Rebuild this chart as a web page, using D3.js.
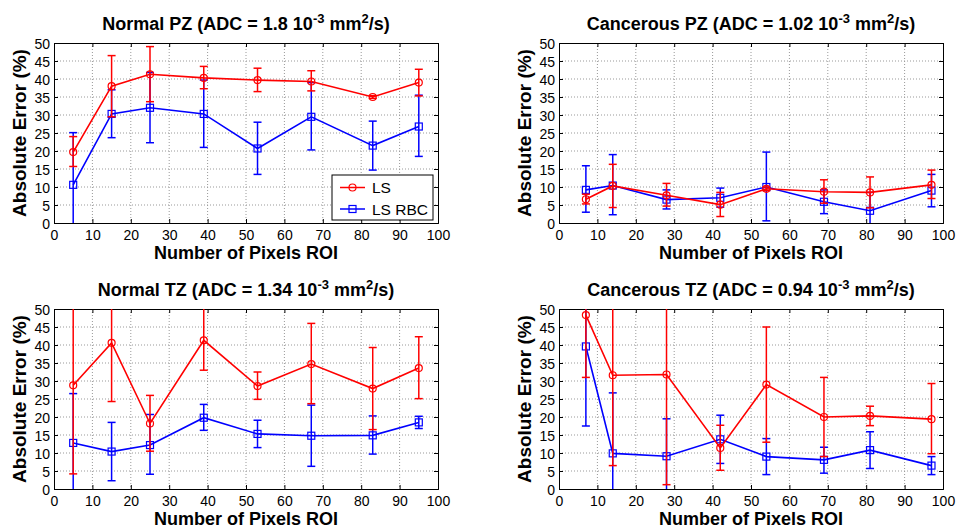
<!DOCTYPE html>
<html>
<head>
<meta charset="utf-8">
<script src="https://cdn.jsdelivr.net/npm/d3@7"></script>
<style>
  body { margin: 0; background: #fff; }
  svg { display: block; font-family: "Liberation Sans", Arial, sans-serif; }
</style>
</head>
<body>
<svg id="chart" width="959" height="531"></svg>
<script>
// x positions (number of pixels in ROI)
const xNormal = [5, 15, 25, 39, 53, 67, 83, 95];
const xCancer = [7, 14, 28, 42, 54, 69, 81, 97];

// Normal PZ
const npzLS     = [19.7, 38.0, 41.3, 40.3, 39.7, 39.3, 35.0, 39.0];
const npzLSLo   = [15.7, 29.5, 33.7, 37.3, 36.5, 36.7, 34.6, 35.3];
const npzLSHi   = [24.0, 46.5, 49.0, 43.5, 43.0, 42.3, 35.4, 42.7];
const npzRBC    = [10.6, 30.3, 32.0, 30.3, 20.7, 29.5, 21.5, 26.8];
const npzRBCLo  = [-4.0, 23.7, 22.3, 21.0, 13.5, 20.3, 14.7, 18.5];
const npzRBCHi  = [25.1, 37.0, 41.8, 39.7, 28.0, 39.0, 28.3, 35.5];

// Cancerous PZ
const cpzLS     = [6.6, 10.3, 7.7, 5.1, 9.5, 8.7, 8.5, 10.6];
const cpzLSLo   = [5.3, 4.3, 4.7, 1.8, 9.0, 5.5, 4.2, 6.8];
const cpzLSHi   = [8.0, 16.3, 11.0, 8.5, 10.0, 12.0, 12.8, 14.7];
const cpzRBC    = [9.2, 10.4, 6.5, 7.0, 10.0, 5.9, 3.4, 9.0];
const cpzRBCLo  = [3.0, 2.3, 3.9, 4.4, 0.6, 2.6, -1.7, 4.5];
const cpzRBCHi  = [15.9, 19.0, 9.2, 9.7, 19.7, 9.2, 8.5, 13.5];

// Normal TZ
const ntzLS     = [28.8, 40.6, 18.2, 41.3, 28.6, 34.7, 27.9, 33.6];
const ntzLSLo   = [4.2, 24.3, 10.5, 33.0, 24.9, 23.7, 16.5, 25.1];
const ntzLSHi   = [53.4, 56.9, 26.0, 51.0, 32.5, 46.0, 39.3, 42.3];
const ntzRBC    = [12.8, 10.4, 12.2, 19.8, 15.3, 14.8, 14.9, 18.5];
const ntzRBCLo  = [-1.0, 2.3, 4.1, 16.3, 11.5, 6.3, 9.7, 16.8];
const ntzRBCHi  = [26.5, 18.5, 20.7, 23.5, 19.1, 23.3, 20.3, 20.2];

// Cancerous TZ
const ctzLS     = [48.3, 31.6, 31.8, 11.4, 29.0, 20.0, 20.3, 19.4];
const ctzLSLo   = [31.0, 6.5, 1.2, 5.2, 13.0, 9.0, 17.6, 9.8];
const ctzLSHi   = [65.6, 56.7, 62.4, 17.7, 45.0, 31.0, 23.0, 29.3];
const ctzRBC    = [39.6, 9.9, 9.1, 13.8, 9.0, 8.1, 10.8, 6.5];
const ctzRBCLo  = [17.5, -7.0, -1.3, 7.1, 4.0, 4.4, 5.7, 4.0];
const ctzRBCHi  = [61.7, 26.7, 19.5, 20.5, 14.0, 11.6, 15.9, 9.0];

const xTicks = [0, 10, 20, 30, 40, 50, 60, 70, 80, 90, 100];
const yTicks = [0, 5, 10, 15, 20, 25, 30, 35, 40, 45, 50];

const panels = [
  {name: "Normal PZ", adc: "1.8", x: xNormal, ls: [npzLS, npzLSLo, npzLSHi], rbc: [npzRBC, npzRBCLo, npzRBCHi],
   left: 54, top: 43, legend: true},
  {name: "Cancerous PZ", adc: "1.02", x: xCancer, ls: [cpzLS, cpzLSLo, cpzLSHi], rbc: [cpzRBC, cpzRBCLo, cpzRBCHi],
   left: 559, top: 43},
  {name: "Normal TZ", adc: "1.34", x: xNormal, ls: [ntzLS, ntzLSLo, ntzLSHi], rbc: [ntzRBC, ntzRBCLo, ntzRBCHi],
   left: 54, top: 309},
  {name: "Cancerous TZ", adc: "0.94", x: xCancer, ls: [ctzLS, ctzLSLo, ctzLSHi], rbc: [ctzRBC, ctzRBCLo, ctzRBCHi],
   left: 559, top: 309}
];

const pw = 384, ph = 180;
const red = "#ff0000", blue = "#0000ff";
const svg = d3.select("#chart");

panels.forEach((p, i) => {
  const g = svg.append("g").attr("transform", `translate(${p.left},${p.top})`);
  const x = d3.scaleLinear().domain([0, 100]).range([0, pw]);
  const y = d3.scaleLinear().domain([0, 50]).range([ph, 0]);

  // grid
  g.append("g").selectAll("line").data(xTicks.slice(1, -1)).join("line")
    .attr("x1", d => x(d)).attr("x2", d => x(d)).attr("y1", 0).attr("y2", ph)
    .attr("stroke", "#999").attr("stroke-dasharray", "1,2");
  g.append("g").selectAll("line").data(yTicks.slice(1, -1)).join("line")
    .attr("y1", d => y(d)).attr("y2", d => y(d)).attr("x1", 0).attr("x2", pw)
    .attr("stroke", "#999").attr("stroke-dasharray", "1,2");

  // axes
  const xa = g.append("g").attr("transform", `translate(0,${ph})`)
    .call(d3.axisBottom(x).tickValues(xTicks).tickSize(-4).tickPadding(6));
  const ya = g.append("g")
    .call(d3.axisLeft(y).tickValues(yTicks).tickSize(-4).tickPadding(4));
  g.append("g").call(d3.axisTop(x).tickValues(xTicks).tickSize(-4).tickFormat(""));
  g.append("g").attr("transform", `translate(${pw},0)`)
    .call(d3.axisRight(y).tickValues(yTicks).tickSize(-4).tickFormat(""));
  g.selectAll(".domain").attr("stroke", "#000");
  g.selectAll(".tick line").attr("stroke", "#000");
  g.selectAll(".tick text").attr("fill", "#000").style("font-size", "14px")
    .style("font-family", "'Liberation Sans', Arial, sans-serif");
  xa.selectAll(".tick text").attr("dy", "0.8em");
  ya.selectAll(".tick text").attr("dy", "0.36em");

  // clipped data
  const clipId = "clip" + i;
  g.append("clipPath").attr("id", clipId).append("rect").attr("width", pw).attr("height", ph);
  const dg = g.append("g").attr("clip-path", `url(#${clipId})`);

  const series = [
    {vals: p.rbc, color: blue, marker: "square"},
    {vals: p.ls, color: red, marker: "circle"}
  ];
  series.forEach(s => {
    const pts = p.x.map((xv, k) => ({x: xv, v: s.vals[0][k], lo: s.vals[1][k], hi: s.vals[2][k]}));
    const eb = dg.append("g").attr("stroke", s.color).attr("stroke-width", 1.5);
    eb.selectAll(".v").data(pts).join("line")
      .attr("x1", d => x(d.x)).attr("x2", d => x(d.x)).attr("y1", d => y(d.lo)).attr("y2", d => y(d.hi));
    eb.selectAll(".lo").data(pts).join("line").attr("class", "lo")
      .attr("x1", d => x(d.x) - 4).attr("x2", d => x(d.x) + 4).attr("y1", d => y(d.lo)).attr("y2", d => y(d.lo));
    eb.selectAll(".hi").data(pts).join("line").attr("class", "hi")
      .attr("x1", d => x(d.x) - 4).attr("x2", d => x(d.x) + 4).attr("y1", d => y(d.hi)).attr("y2", d => y(d.hi));
    dg.append("path").datum(pts)
      .attr("fill", "none").attr("stroke", s.color).attr("stroke-width", 1.6)
      .attr("d", d3.line().x(d => x(d.x)).y(d => y(d.v)));
    if (s.marker === "circle") {
      dg.append("g").selectAll("circle").data(pts).join("circle")
        .attr("cx", d => x(d.x)).attr("cy", d => y(d.v)).attr("r", 3.5)
        .attr("fill", "none").attr("stroke", s.color).attr("stroke-width", 1.2);
    } else {
      dg.append("g").selectAll("rect").data(pts).join("rect")
        .attr("x", d => x(d.x) - 3.5).attr("y", d => y(d.v) - 3.5).attr("width", 7).attr("height", 7)
        .attr("fill", "none").attr("stroke", s.color).attr("stroke-width", 1.2);
    }
  });

  // title
  const t = g.append("text").attr("x", pw / 2).attr("y", -13).attr("text-anchor", "middle")
    .style("font-weight", "bold").style("font-size", "18px");
  t.append("tspan").text(`${p.name} (ADC = ${p.adc} 10`);
  t.append("tspan").attr("dy", -7).style("font-size", "13px").text("-3");
  t.append("tspan").attr("dy", 7).text(" mm");
  t.append("tspan").attr("dy", -7).style("font-size", "13px").text("2");
  t.append("tspan").attr("dy", 7).text("/s)");

  // axis labels
  g.append("text").attr("x", pw / 2).attr("y", ph + 36).attr("text-anchor", "middle")
    .style("font-weight", "bold").style("font-size", "18px").text("Number of Pixels ROI");
  g.append("text").attr("transform", `translate(-28,${ph / 2}) rotate(-90)`).attr("text-anchor", "middle")
    .style("font-weight", "bold").style("font-size", "19px").text("Absolute Error (%)");

  // legend
  if (p.legend) {
    const lg = g.append("g").attr("transform", `translate(${pw - 106},${ph - 48})`);
    lg.append("rect").attr("width", 101).attr("height", 45).attr("fill", "#fff").attr("stroke", "#000");
    const items = [{label: "LS", color: red, marker: "circle"}, {label: "LS RBC", color: blue, marker: "square"}];
    items.forEach((it, k) => {
      const yy = 12.5 + k * 21.5;
      lg.append("line").attr("x1", 8).attr("x2", 33).attr("y1", yy).attr("y2", yy)
        .attr("stroke", it.color).attr("stroke-width", 1.5);
      if (it.marker === "circle") {
        lg.append("circle").attr("cx", 20.5).attr("cy", yy).attr("r", 3.5)
          .attr("fill", "none").attr("stroke", it.color).attr("stroke-width", 1.2);
      } else {
        lg.append("rect").attr("x", 17).attr("y", yy - 3.5).attr("width", 7).attr("height", 7)
          .attr("fill", "none").attr("stroke", it.color).attr("stroke-width", 1.2);
      }
      lg.append("text").attr("x", 40).attr("y", yy).attr("dy", "0.36em")
        .style("font-size", "15.5px").text(it.label);
    });
  }
});
</script>
</body>
</html>
